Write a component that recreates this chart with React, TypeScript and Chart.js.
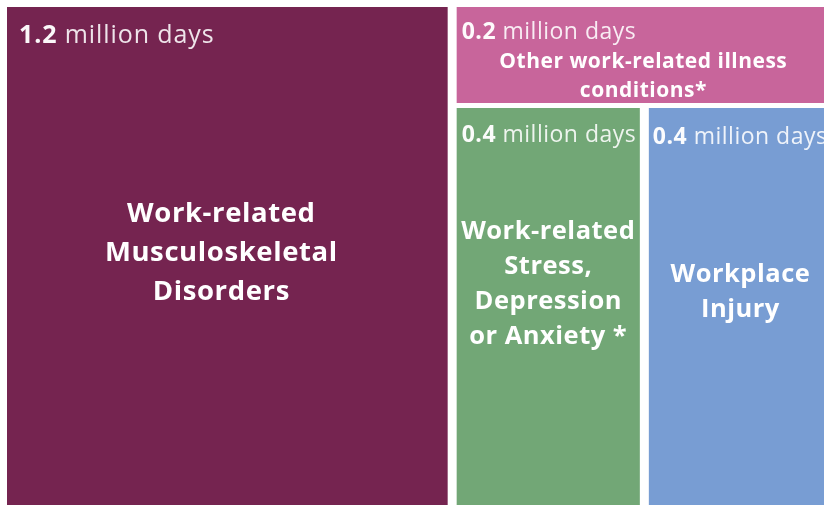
import React, { useEffect, useRef } from "react";
import { Chart, registerables } from "chart.js";

Chart.register(...registerables);

// ---- data ----
const categories = [
  "Work-related Musculoskeletal Disorders",
  "Other work-related illness conditions*",
  "Work-related Stress, Depression or Anxiety *",
  "Workplace Injury",
];
const labelLines = [
  ["Work-related", "Musculoskeletal", "Disorders"],
  ["Other work-related illness", "conditions*"],
  ["Work-related", "Stress,", "Depression", "or Anxiety *"],
  ["Workplace", "Injury"],
];
const daysLostMillions = [1.17, 0.2, 0.4, 0.4];
const unitText = "million days";
// nesting of the slice-and-dice layout (indices into the arrays above)
const layoutTree: any = [0, [1, [2, 3]]];

// ---- styles ----
const cellColors = ["#752450", "#c8659b", "#72a776", "#789dd3"];
const cellStyles = [
  { valueSize: 25, valueSp: 0.9, valueDx: 12, valueDy: 36, labelSize: 27.5, labelSp: 0.6, lineH: 39, labelDx: -6, labelDy: 215 },
  { valueSize: 23, valueSp: 0.5, valueDx: 5, valueDy: 32, labelSize: 21, labelSp: 0.5, lineH: 28.5, labelDx: -1, labelDy: 61 },
  { valueSize: 23, valueSp: 0.5, valueDx: 5, valueDy: 34, labelSize: 25.5, labelSp: 0.5, lineH: 35, labelDx: 0, labelDy: 131 },
  { valueSize: 23, valueSp: 0.5, valueDx: 4, valueDy: 36, labelSize: 25.5, labelSp: 0.5, lineH: 35, labelDx: 0, labelDy: 174 },
];
const H_GAP = 9;
const V_GAP = 5;
const FONT = "'Open Sans', 'Noto Sans', sans-serif";

type R = { x0: number; x1: number; y0: number; y1: number };

function nodeValue(node: any): number {
  if (typeof node === "number") return daysLostMillions[node];
  return node.reduce((s: number, n: any) => s + nodeValue(n), 0);
}

function layout(node: any, rect: R, horizontal: boolean, out: R[]) {
  if (typeof node === "number") {
    out[node] = rect;
    return;
  }
  const total = nodeValue(node);
  let acc = 0;
  for (const child of node) {
    const v = nodeValue(child);
    const f0 = acc / total;
    const f1 = (acc + v) / total;
    acc += v;
    const r: R = horizontal
      ? { x0: rect.x0 + (rect.x1 - rect.x0) * f0, x1: rect.x0 + (rect.x1 - rect.x0) * f1, y0: rect.y0, y1: rect.y1 }
      : { x0: rect.x0, x1: rect.x1, y0: rect.y0 + (rect.y1 - rect.y0) * f0, y1: rect.y0 + (rect.y1 - rect.y0) * f1 };
    layout(child, r, !horizontal, out);
  }
}

const TOTAL = nodeValue(layoutTree);

const treemapPlugin = {
  id: "treemapCells",
  beforeDatasetsDraw(chart: any) {
    const { ctx, scales } = chart;
    const xs = scales.x;
    const ys = scales.y;
    const rects: R[] = [];
    layout(layoutTree, { x0: 0, x1: TOTAL, y0: 0, y1: 1 }, true, rects);
    ctx.save();
    rects.forEach((r, i) => {
      const left = xs.getPixelForValue(r.x0) + H_GAP / 2;
      const right = xs.getPixelForValue(r.x1) - H_GAP / 2;
      const top = ys.getPixelForValue(r.y0) + V_GAP / 2;
      const bottom = ys.getPixelForValue(r.y1) - V_GAP / 2;
      ctx.fillStyle = cellColors[i];
      ctx.fillRect(left, top, right - left, bottom - top);

      const st = cellStyles[i];
      // value line
      ctx.textBaseline = "alphabetic";
      ctx.textAlign = "left";
      ctx.letterSpacing = `${st.valueSp}px`;
      const num = daysLostMillions[i].toFixed(1);
      ctx.fillStyle = "rgba(255,255,255,0.97)";
      ctx.font = `bold ${st.valueSize}px ${FONT}`;
      const vx = left + st.valueDx;
      const vy = top + st.valueDy;
      ctx.fillText(num, vx, vy);
      const w = ctx.measureText(num + " ").width;
      ctx.font = `${st.valueSize}px ${FONT}`;
      ctx.fillStyle = "rgba(255,255,255,0.88)";
      ctx.fillText(unitText, vx + w, vy);

      // category label
      ctx.letterSpacing = `${st.labelSp}px`;
      ctx.font = `bold ${st.labelSize}px ${FONT}`;
      ctx.fillStyle = "#ffffff";
      ctx.textAlign = "center";
      const cx = (left + right) / 2 + st.labelDx;
      labelLines[i].forEach((line, k) => {
        ctx.fillText(line, cx, top + st.labelDy + k * st.lineH);
      });
      ctx.letterSpacing = "0px";
    });
    ctx.restore();
  },
};

export default function App() {
  const ref = useRef<HTMLCanvasElement | null>(null);
  useEffect(() => {
    if (!ref.current) return;
    const chart = new Chart(ref.current, {
      type: "scatter",
      data: {
        datasets: [
          {
            label: "Days lost (millions)",
            data: [],
          },
        ],
      },
      options: {
        animation: false,
        responsive: true,
        maintainAspectRatio: false,
        layout: { padding: { left: 2.5, top: 4.5, right: 3.5, bottom: 2.5 } },
        plugins: { legend: { display: false }, tooltip: { enabled: false }, title: { display: false } },
        scales: {
          x: { type: "linear", min: 0, max: TOTAL, display: false },
          y: { type: "linear", min: 0, max: 1, reverse: true, display: false },
        },
      },
      plugins: [treemapPlugin],
    });
    return () => chart.destroy();
  }, []);
  return (
    <div style={{ position: "fixed", left: 0, top: 0, width: 824, height: 505, overflow: "hidden", background: "#fff" }}>
      <div style={{ position: "absolute", left: 0, top: 0, width: 840, height: 512 }}>
        <canvas ref={ref} aria-label={categories.join(", ")} />
      </div>
    </div>
  );
}
